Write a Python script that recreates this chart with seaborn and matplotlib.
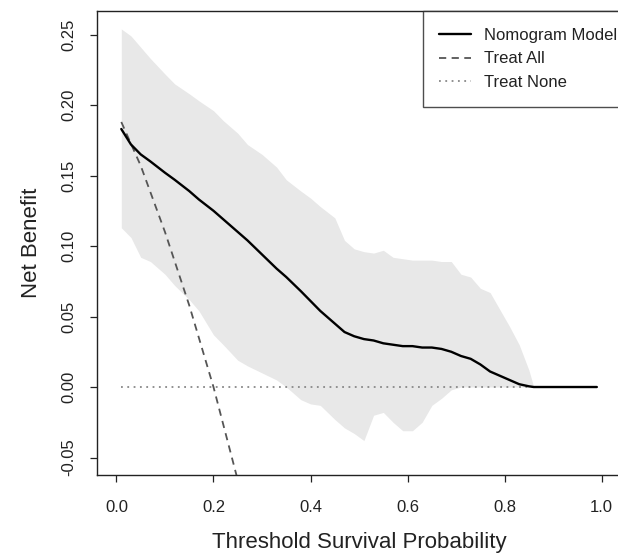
import numpy as np
import seaborn as sns
import matplotlib
matplotlib.use("Agg")
import matplotlib.pyplot as plt

# Decision curve values
thresholds = [0.01, 0.03, 0.05, 0.07, 0.10, 0.12, 0.15, 0.17, 0.20, 0.22,
              0.25, 0.27, 0.30, 0.33, 0.35, 0.38, 0.40, 0.42, 0.45, 0.47,
              0.49, 0.51, 0.53, 0.55, 0.57, 0.59, 0.61, 0.63, 0.65, 0.67,
              0.69, 0.71, 0.73, 0.75, 0.77, 0.79, 0.81, 0.83, 0.85, 0.86,
              0.90, 0.95, 0.99]

model_nb = [0.183, 0.172, 0.165, 0.160, 0.152, 0.147, 0.139, 0.133, 0.125, 0.119,
            0.110, 0.104, 0.094, 0.084, 0.078, 0.068, 0.061, 0.054, 0.045, 0.039,
            0.036, 0.034, 0.033, 0.031, 0.030, 0.029, 0.029, 0.028, 0.028, 0.027,
            0.025, 0.022, 0.020, 0.016, 0.011, 0.008, 0.005, 0.002, 0.0005, 0.0,
            0.0, 0.0, 0.0]

ci_upper = [0.254, 0.249, 0.241, 0.233, 0.222, 0.215, 0.208, 0.203, 0.196, 0.189,
            0.180, 0.172, 0.165, 0.156, 0.147, 0.139, 0.134, 0.128, 0.120, 0.104,
            0.098, 0.096, 0.095, 0.097, 0.092, 0.091, 0.090, 0.090, 0.090, 0.089,
            0.089, 0.080, 0.078, 0.070, 0.067, 0.055, 0.043, 0.030, 0.012, 0.0,
            0.0, 0.0, 0.0]

ci_lower = [0.113, 0.106, 0.092, 0.089, 0.080, 0.072, 0.062, 0.054, 0.037, 0.030,
            0.019, 0.015, 0.010, 0.005, 0.000, -0.009, -0.012, -0.013, -0.023, -0.029,
            -0.033, -0.038, -0.020, -0.018, -0.025, -0.031, -0.031, -0.025, -0.013, -0.008,
            -0.002, 0.0, 0.0, 0.0, 0.0, 0.0, 0.0, 0.0, 0.0, 0.0,
            0.0, 0.0, 0.0]

all_thresholds = [0.01, 0.05, 0.10, 0.15, 0.20, 0.25]
treat_all_nb = [0.188, 0.157, 0.110, 0.058, 0.000, -0.066]

none_thresholds = [0.01, 0.99]
treat_none_nb = [0.0, 0.0]

xticks = [0.0, 0.2, 0.4, 0.6, 0.8, 1.0]
xtick_labels = ["0.0", "0.2", "0.4", "0.6", "0.8", "1.0"]
yticks = [-0.05, 0.00, 0.05, 0.10, 0.15, 0.20, 0.25]
ytick_labels = ["-0.05", "0.00", "0.05", "0.10", "0.15", "0.20", "0.25"]

sns.set_theme(style="white")
plt.rcParams["font.family"] = ["Liberation Sans", "DejaVu Sans"]

fig = plt.figure(figsize=(6.18, 5.56), dpi=100)
ax = fig.add_axes([0.157, 0.1457, 0.848, 0.8345])

# Confidence band
ax.fill_between(thresholds, ci_lower, ci_upper, color="#e8e8e8", linewidth=0, zorder=1)

# Curves
sns.lineplot(x=thresholds, y=model_nb, ax=ax, color="black", linewidth=1.7,
             label="Nomogram Model", zorder=3)
sns.lineplot(x=all_thresholds, y=treat_all_nb, ax=ax, color="#555555", linewidth=1.3,
             label="Treat All", zorder=2)
sns.lineplot(x=none_thresholds, y=treat_none_nb, ax=ax, color="#888888", linewidth=1.3,
             label="Treat None", zorder=2)
ax.lines[1].set_dashes((4, 3))
ax.lines[2].set_dashes((1, 2.5))

ax.set_xlim(-0.04, 1.04)
ax.set_ylim(-0.0624, 0.2667)
ax.set_xticks(xticks)
ax.set_xticklabels(xtick_labels)
ax.set_yticks(yticks)
ax.set_yticklabels(ytick_labels, rotation=90, va="center")

ax.tick_params(axis="both", direction="out", length=5, width=0.9, color="#222222",
               labelsize=12, labelcolor="#222222", bottom=True, left=True)
ax.tick_params(axis="x", pad=13)
ax.tick_params(axis="y", pad=10)
for side in ["left", "bottom", "top", "right"]:
    ax.spines[side].set_color("#222222")
    ax.spines[side].set_linewidth(1.0)

ax.set_xlabel("Threshold Survival Probability", fontsize=16, color="#222222", labelpad=12)
ax.set_ylabel("Net Benefit", fontsize=16, color="#222222", labelpad=14)

leg = ax.legend(loc="upper right", bbox_to_anchor=(1.025, 1.0), borderaxespad=0,
                fontsize=12, frameon=True, fancybox=False, handlelength=1.9,
                handletextpad=0.8, labelspacing=0.52, borderpad=1.0)
leg.get_frame().set_edgecolor("#222222")
leg.get_frame().set_linewidth(1.0)
for t in leg.get_texts():
    t.set_color("#222222")

fig.savefig("out.png", dpi=100)
